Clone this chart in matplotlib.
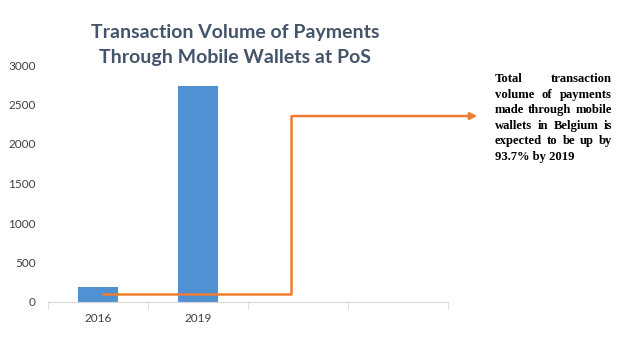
import matplotlib.pyplot as plt
from matplotlib.ticker import FixedLocator

years = ["2016", "2019"]
volume = [190, 2740]
note_lines = [
    "Total transaction",
    "volume of payments",
    "made through mobile",
    "wallets in Belgium is",
    "expected to be up by",
    "93.7% by 2019",
]

fig = plt.figure(figsize=(6.25, 3.45), dpi=100)
ax = fig.add_axes([48 / 625, 43 / 345, 400 / 625, 237 / 345])

x = list(range(len(years)))
ax.bar(x, volume, width=0.4, color="#4F91D3", zorder=2)

ax.set_xlim(-0.5, 3.5)
ax.set_ylim(0, 3000)
ax.set_yticks(range(0, 3001, 500))
ax.set_xticks(x)
ax.set_xticklabels(years)
ax.xaxis.set_minor_locator(FixedLocator([-0.5, 0.5, 1.5, 2.5, 3.5]))
ax.tick_params(axis="x", which="major", length=0, pad=8, labelsize=8.5, labelcolor="#404040")
ax.tick_params(axis="x", which="minor", length=5, color="#D9D9D9", direction="out")
ax.tick_params(axis="y", length=0, pad=9, labelsize=8.5, labelcolor="#404040")
for lab in ax.get_xticklabels() + ax.get_yticklabels():
    lab.set_family("Lato")
for s in ["top", "right", "left"]:
    ax.spines[s].set_visible(False)
ax.spines["bottom"].set_color("#D9D9D9")

fig.text(0.376, 0.905, "Transaction Volume of Payments", ha="center", va="center",
         fontsize=14, fontweight="bold", color="#44546A", family="Lato")
fig.text(0.376, 0.833, "Through Mobile Wallets at PoS", ha="center", va="center",
         fontsize=14, fontweight="bold", color="#44546A", family="Lato")

# orange connector arrow from the 2016 bar to the note
orange = "#ED7D31"
ax.plot([0.05, 1.93, 1.93], [100, 100, 2354], color=orange, lw=1.8, clip_on=False, zorder=3)
ax.annotate("", xy=(3.82, 2354), xytext=(1.92, 2354), xycoords="data",
            arrowprops=dict(arrowstyle="-|>", color=orange, lw=1.8, mutation_scale=10),
            annotation_clip=False, zorder=3)

# justified note text
x0, x1 = 495, 612
fig.canvas.draw()
r = fig.canvas.get_renderer()
tkw = dict(fontsize=9.1, fontweight="bold", family="Liberation Serif", color="black",
           va="baseline")
for i, line in enumerate(note_lines):
    yb = 345 - (82 + i * 15.6)
    words = line.split()
    last = i == len(note_lines) - 1
    if last or len(words) == 1:
        fig.text(x0 / 625, yb / 345, line, ha="left", **tkw)
        continue
    widths = []
    for w in words:
        t = fig.text(0, 0, w, **tkw)
        widths.append(t.get_window_extent(r).width)
        t.remove()
    gap = (x1 - x0 - sum(widths)) / (len(words) - 1)
    pos = x0
    for w, wd in zip(words, widths):
        fig.text(pos / 625, yb / 345, w, ha="left", **tkw)
        pos += wd + gap

fig.savefig("out.png", dpi=100)
